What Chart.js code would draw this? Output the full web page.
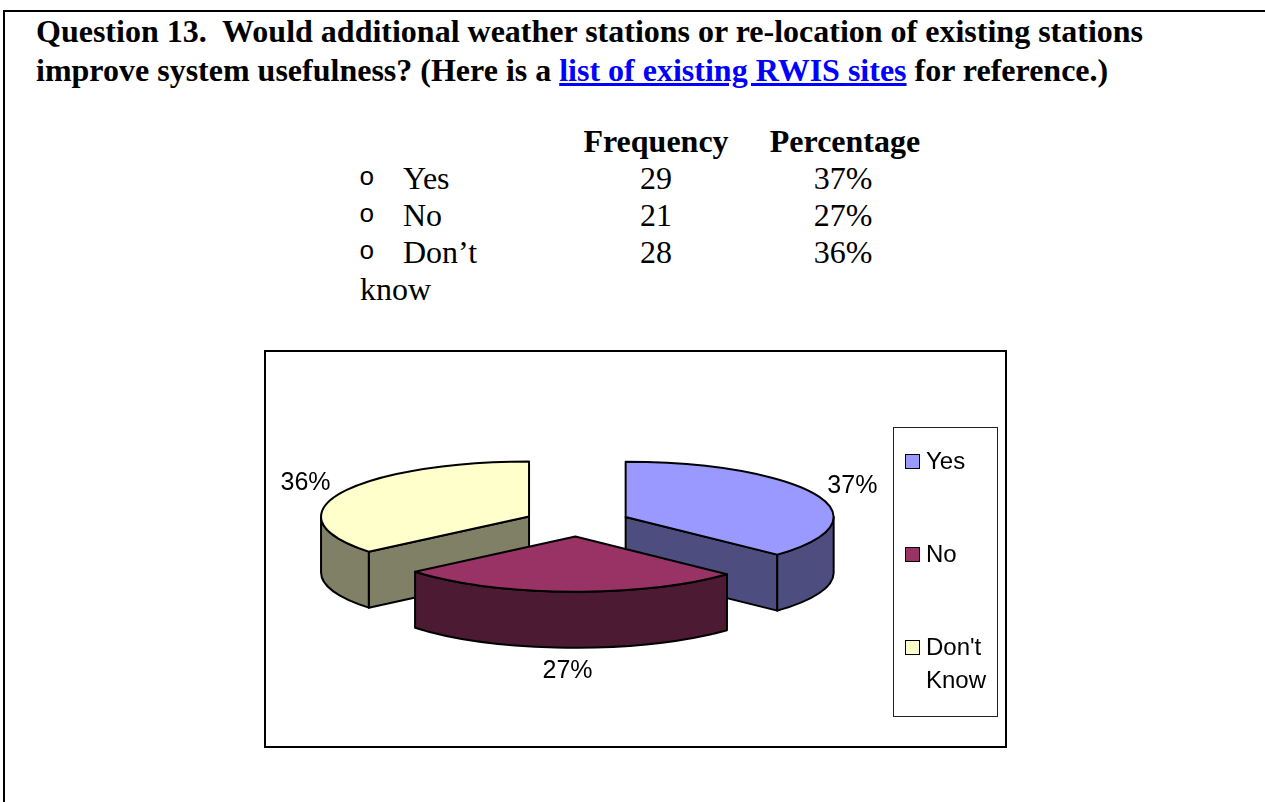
<!DOCTYPE html>
<html>
<head>
<meta charset="utf-8">
<title>Question 13</title>
<script src="https://cdn.jsdelivr.net/npm/chart.js@4.4.1/dist/chart.umd.min.js"></script>
<style>
  html, body { margin: 0; padding: 0; background: #fff; }
  body { width: 1265px; height: 802px; overflow: hidden; position: relative; }
  .frame {
    position: absolute; left: 3px; top: 10px; width: 1400px; height: 900px;
    border-top: 2px solid #000; border-left: 2px solid #000;
  }
  .serif { font-family: "Liberation Serif", "Times New Roman", serif; color: #000; }
  .title {
    position: absolute; left: 36px; top: 12px; font-size: 32px; font-weight: bold; line-height: 39px;
    white-space: nowrap;
  }
  .title a { color: #0000ff; text-decoration: underline; }
  .cell { position: absolute; font-size: 32px; line-height: 37px; white-space: nowrap; }
  .bullet { font-family: "Liberation Mono", "Courier New", monospace; font-size: 26px; }
  .center { text-align: center; width: 200px; }
  .bold { font-weight: bold; }
  .box {
    position: absolute; left: 264px; top: 350px; width: 743px; height: 398px;
    border: 2px solid #000; box-sizing: border-box;
  }
  .box canvas { position: absolute; left: 0; top: 0; }
  .legend {
    position: absolute; left: 893px; top: 427px; width: 105px; height: 290px;
    border: 1px solid #222; box-sizing: border-box; padding: 16px 0 0 11px;
    font-family: "Liberation Sans", Arial, sans-serif; font-size: 24px; line-height: 33px;
  }
  .legend .item { display: flex; align-items: flex-start; margin-bottom: 60px; }
  .legend .swatch {
    width: 13px; height: 13px; border: 1.5px solid #000; margin: 10px 6px 0 0; flex: none;
  }
  .legend .text { width: 66px; }
</style>
</head>
<body>
<div class="frame"></div>
<div class="title serif">Question 13.&nbsp; Would additional weather stations or re-location of existing stations<br>improve system usefulness? (Here is a <a href="#">list of existing RWIS sites</a> for reference.)</div>
<div id="table"></div>
<div class="box"><canvas id="pie" width="739" height="394"></canvas></div>
<div class="legend" id="legend"></div>

<script>
// survey answers
const categories = ['Yes', 'No', "Don't Know"];
const tableLabels = ['Yes', 'No', 'Don\u2019t'];
const frequencies = [29, 21, 28];
const percentages = [37, 27, 36];

const topColors = ['#9999ff', '#993366', '#ffffcc'];
const sideColors = ['#4d4d80', '#4d1a33', '#808066'];

// frequency table above the chart
const table = document.getElementById('table');
function cell(text, left, top, cls) {
  const d = document.createElement('div');
  d.className = 'cell serif ' + (cls || '');
  d.style.left = left + 'px';
  d.style.top = top + 'px';
  d.textContent = text;
  table.appendChild(d);
}
const rowTop = 123, rowH = 37;
cell('Frequency', 556, rowTop, 'center bold');
cell('Percentage', 745, rowTop, 'center bold');
tableLabels.forEach((lab, i) => {
  const y = rowTop + rowH * (i + 1);
  cell('o', 359, y, 'bullet');
  cell(lab, 403, y);
  cell(String(frequencies[i]), 556, y, 'center');
  cell(percentages[i] + '%', 743, y, 'center');
});
cell('know', 360, rowTop + rowH * 4);

// draws the pie as exploded 3D slices, using the arcs laid out by the pie controller
const pie3d = {
  id: 'pie3d',
  beforeDatasetsDraw(chart, args, opts) {
    const ctx = chart.ctx;
    const ds = chart.data.datasets[0];
    const meta = chart.getDatasetMeta(0);
    const total = ds.data.reduce((a, b) => a + b, 0);
    const tilt = opts.tilt, depth = opts.depth;

    const slices = meta.data.map((arc, i) => {
      const p = arc.getProps(['x', 'y', 'startAngle', 'endAngle', 'outerRadius']);
      const mid = (p.startAngle + p.endAngle) / 2;
      return {
        i: i, start: p.startAngle, end: p.endAngle, mid: mid, r: p.outerRadius,
        cx: p.x + Math.cos(mid) * opts.explode,
        cy: p.y + Math.sin(mid) * opts.explode * tilt
      };
    });
    // back slices first
    const order = slices.slice().sort((a, b) => a.cy - b.cy);

    ctx.save();
    ctx.lineWidth = ds.borderWidth;
    ctx.strokeStyle = ds.borderColor;
    ctx.lineJoin = 'round';

    order.forEach(s => {
      const rx = s.r, ry = s.r * tilt;
      const pt = a => [s.cx + rx * Math.cos(a), s.cy + ry * Math.sin(a)];

      // flat walls along the two radii
      [[s.start, -1], [s.end, 1]].forEach(([a, dir]) => {
        if (Math.sin(a + dir * Math.PI / 2) <= 0.01) return;
        const [ex, ey] = pt(a);
        ctx.beginPath();
        ctx.moveTo(s.cx, s.cy);
        ctx.lineTo(ex, ey);
        ctx.lineTo(ex, ey + depth);
        ctx.lineTo(s.cx, s.cy + depth);
        ctx.closePath();
        ctx.fillStyle = opts.sideColors[s.i];
        ctx.fill();
        ctx.stroke();
      });

      // curved outer wall, front half only
      const a0 = Math.max(s.start, 0), a1 = Math.min(s.end, Math.PI);
      if (a1 > a0) {
        const [x1, y1] = pt(a1);
        ctx.beginPath();
        ctx.ellipse(s.cx, s.cy, rx, ry, 0, a0, a1, false);
        ctx.lineTo(x1, y1 + depth);
        ctx.ellipse(s.cx, s.cy + depth, rx, ry, 0, a1, a0, true);
        ctx.closePath();
        ctx.fillStyle = opts.sideColors[s.i];
        ctx.fill();
        ctx.stroke();
      }

      // top face
      ctx.beginPath();
      ctx.moveTo(s.cx, s.cy);
      ctx.ellipse(s.cx, s.cy, rx, ry, 0, s.start, s.end, false);
      ctx.closePath();
      ctx.fillStyle = ds.backgroundColor[s.i];
      ctx.fill();
      ctx.stroke();
    });

    // percentage labels outside each slice
    ctx.font = opts.labelFont;
    ctx.fillStyle = '#000';
    ctx.textAlign = 'center';
    ctx.textBaseline = 'middle';
    slices.forEach(s => {
      const txt = Math.round(ds.data[s.i] / total * 100) + '%';
      const lr = s.r + opts.labelGap;
      const c = Math.cos(s.mid), sn = Math.sin(s.mid);
      let lx = s.cx + c * lr, ly = s.cy + sn * lr * tilt;
      if (sn > 0) ly += depth;
      const w = ctx.measureText(txt).width;
      lx += c * w / 2;
      ly += sn * opts.labelHeight;
      ctx.fillText(txt, lx, ly);
    });
    ctx.restore();
    return false;
  }
};

const chart = new Chart(document.getElementById('pie'), {
  type: 'pie',
  data: {
    labels: categories,
    datasets: [{
      data: percentages,
      backgroundColor: topColors,
      borderColor: '#000',
      borderWidth: 2,
      radius: 208
    }]
  },
  options: {
    responsive: false,
    animation: false,
    events: [],
    layout: { padding: { left: 0, top: 0, right: 117, bottom: 53 } },
    plugins: {
      legend: { display: false },
      tooltip: { enabled: false },
      pie3d: {
        tilt: 0.265,
        explode: 53,
        depth: 56,
        labelGap: 14,
        labelHeight: 20,
        labelFont: '25px "Liberation Sans", Arial, sans-serif',
        sideColors: sideColors
      }
    }
  },
  plugins: [pie3d]
});

// html legend built from the chart data
const legend = document.getElementById('legend');
chart.data.labels.forEach((lab, i) => {
  const item = document.createElement('div');
  item.className = 'item';
  const sw = document.createElement('span');
  sw.className = 'swatch';
  sw.style.background = chart.data.datasets[0].backgroundColor[i];
  const tx = document.createElement('span');
  tx.className = 'text';
  tx.textContent = lab;
  item.appendChild(sw);
  item.appendChild(tx);
  legend.appendChild(item);
});
</script>
</body>
</html>
